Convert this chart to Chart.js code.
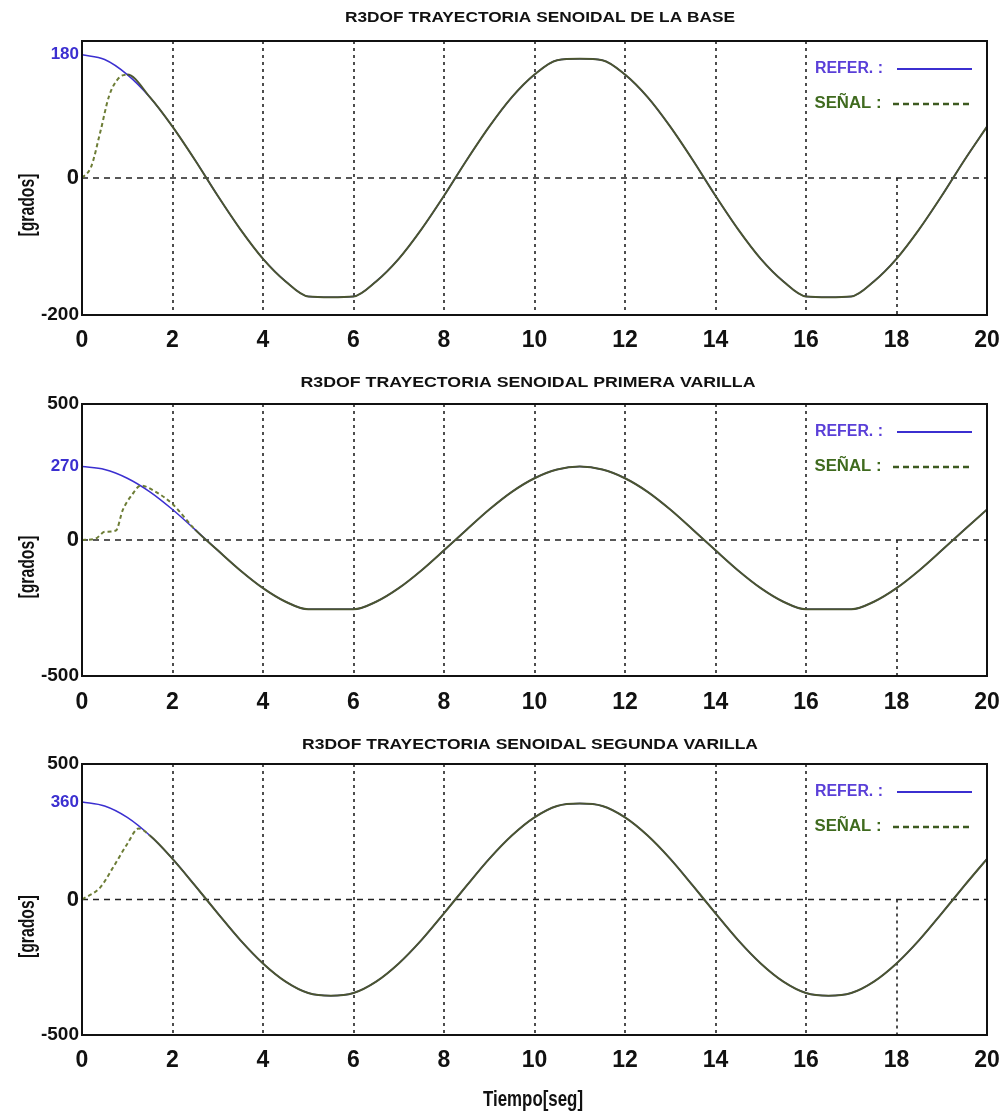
<!DOCTYPE html>
<html>
<head>
<meta charset="utf-8">
<script src="https://cdn.jsdelivr.net/npm/chart.js@4.4.0/dist/chart.umd.min.js"></script>
<style>
  html, body { margin: 0; padding: 0; background: #fff; }
  body { width: 1003px; height: 1119px; position: relative; overflow: hidden; }
  canvas { position: absolute; left: 0; }
</style>
</head>
<body>
<canvas id="c1" width="1003" height="360" style="top:0px"></canvas>
<canvas id="c2" width="1003" height="360" style="top:360px"></canvas>
<canvas id="c3" width="1003" height="399" style="top:720px"></canvas>
<script>
// sample times (seg)
const timeRef = [0, 0.5, 1, 1.5, 2, 2.5, 3, 3.5, 4, 4.5, 5, 5.5, 6, 6.5, 7, 7.5, 8, 8.5, 9, 9.5,
  10, 10.5, 11, 11.5, 12, 12.5, 13, 13.5, 14, 14.5, 15, 15.5, 16, 16.5, 17, 17.5, 18, 18.5, 19, 19.5, 20];
const xTicks = [0, 2, 4, 6, 8, 10, 12, 14, 16, 18, 20];

// base
const baseRef = [180, 173, 151, 118, 75, 26, -26, -75, -118, -151, -173, -174, -173, -151, -118, -75, -26, 26, 75, 118,
  151, 172, 174, 172, 151, 118, 75, 26, -26, -75, -118, -151, -173, -174, -173, -151, -118, -75, -26, 26, 75];
const baseSigT = [0, 0.2, 0.4, 0.6, 0.8, 1, 1.5, 2, 2.5, 3, 3.5, 4, 4.5, 5, 5.5, 6, 6.5, 7, 7.5, 8, 8.5, 9, 9.5,
  10, 10.5, 11, 11.5, 12, 12.5, 13, 13.5, 14, 14.5, 15, 15.5, 16, 16.5, 17, 17.5, 18, 18.5, 19, 19.5, 20];
const baseSig = [0, 16, 66, 120, 145, 151, 118, 75, 26, -26, -75, -118, -151, -173, -174, -173, -151, -118, -75, -26, 26, 75, 118,
  151, 172, 174, 172, 151, 118, 75, 26, -26, -75, -118, -151, -173, -174, -173, -151, -118, -75, -26, 26, 75];
const baseTicks = [-200, 0, 180];

// primera varilla
const var1Ref = [270, 259, 227, 177, 112, 38, -38, -112, -177, -227, -255, -255, -255, -227, -177, -112, -38, 38, 112, 177,
  227, 259, 270, 259, 227, 177, 112, 38, -38, -112, -177, -227, -255, -255, -255, -227, -177, -112, -38, 38, 112];
const var1SigT = [0, 0.3, 0.5, 0.75, 0.9, 1.1, 1.3, 1.6, 2, 2.5, 3, 3.5, 4, 4.5, 5, 5.5, 6, 6.5, 7, 7.5, 8, 8.5, 9, 9.5,
  10, 10.5, 11, 11.5, 12, 12.5, 13, 13.5, 14, 14.5, 15, 15.5, 16, 16.5, 17, 17.5, 18, 18.5, 19, 19.5, 20];
const var1Sig = [0, 5, 30, 35, 110, 165, 200, 180, 132, 38, -38, -112, -177, -227, -255, -255, -255, -227, -177, -112, -38, 38, 112, 177,
  227, 259, 270, 259, 227, 177, 112, 38, -38, -112, -177, -227, -255, -255, -255, -227, -177, -112, -38, 38, 112];
const var1Ticks = [-500, 0, 270, 500];

// segunda varilla
const var2Ref = [360, 345, 303, 236, 150, 51, -51, -150, -236, -303, -345, -355, -345, -303, -236, -150, -51, 51, 150, 236,
  303, 345, 354, 345, 303, 236, 150, 51, -51, -150, -236, -303, -345, -355, -345, -303, -236, -150, -51, 51, 150];
const var2SigT = [0, 0.4, 0.7, 1, 1.25, 1.5, 2, 2.5, 3, 3.5, 4, 4.5, 5, 5.5, 6, 6.5, 7, 7.5, 8, 8.5, 9, 9.5,
  10, 10.5, 11, 11.5, 12, 12.5, 13, 13.5, 14, 14.5, 15, 15.5, 16, 16.5, 17, 17.5, 18, 18.5, 19, 19.5, 20];
const var2Sig = [0, 44, 122, 205, 262, 236, 150, 51, -51, -150, -236, -303, -345, -355, -345, -303, -236, -150, -51, 51, 150, 236,
  303, 345, 354, 345, 303, 236, 150, 51, -51, -150, -236, -303, -345, -355, -345, -303, -236, -150, -51, 51, 150];
const var2Ticks = [-500, 0, 360, 500];

const FONT = '"Liberation Sans", Arial, sans-serif';
const BLUE = '#3b2fd0';
const GREEN = '#3f6a1e';

function fitText(ctx, text, cx, cy, w, font, color, rot) {
  ctx.save();
  ctx.font = font;
  const m = ctx.measureText(text).width;
  ctx.translate(cx, cy);
  if (rot) ctx.rotate(rot);
  ctx.scale(w / m, 1);
  ctx.fillStyle = color;
  ctx.textAlign = 'center';
  ctx.textBaseline = 'middle';
  ctx.fillText(text, 0, 0);
  ctx.restore();
}

// grid, frame, titles and legend
const decoPlugin = {
  id: 'deco',
  beforeDatasetsDraw(chart) {
    const { ctx, chartArea: a, scales: { x, y } } = chart;
    const y0 = y.getPixelForValue(0);
    ctx.save();
    ctx.strokeStyle = '#222';
    ctx.lineWidth = 1.6;
    ctx.setLineDash([3, 4]);
    xTicks.slice(1, -1).forEach(v => {
      const px = Math.round(x.getPixelForValue(v));
      ctx.beginPath();
      ctx.moveTo(px, v === 18 ? y0 : a.top);
      ctx.lineTo(px, a.bottom);
      ctx.stroke();
    });
    ctx.setLineDash([6, 5]);
    ctx.beginPath();
    ctx.moveTo(a.left, y0);
    ctx.lineTo(a.right, y0);
    ctx.stroke();
    ctx.restore();
  },
  afterDraw(chart, args, opts) {
    const { ctx, chartArea: a, scales: { y } } = chart;
    const y0 = y.getPixelForValue(0);
    ctx.save();
    ctx.strokeStyle = '#111';
    ctx.lineWidth = 2;
    ctx.strokeRect(a.left, a.top, a.right - a.left, a.bottom - a.top);

    fitText(ctx, opts.title, opts.titleX, opts.titleY, opts.titleW, 'bold 15px ' + FONT, '#111');
    fitText(ctx, '[grados]', 28, y0 + 27, 63, 'bold 22px ' + FONT, '#111', -Math.PI / 2);
    if (opts.xTitle) fitText(ctx, opts.xTitle, 533, 380, 100, 'bold 22px ' + FONT, '#111');

    // legend
    const ly1 = a.top + 28, ly2 = a.top + 63;
    fitText(ctx, 'REFER. :', 849, ly1, 68, 'bold 16px ' + FONT, '#5a3fd8');
    fitText(ctx, 'SEÑAL :', 848, ly2, 67, 'bold 16px ' + FONT, GREEN);
    ctx.strokeStyle = BLUE;
    ctx.lineWidth = 2;
    ctx.beginPath(); ctx.moveTo(897, ly1); ctx.lineTo(972, ly1); ctx.stroke();
    ctx.strokeStyle = '#3d5a20';
    ctx.lineWidth = 2.5;
    ctx.setLineDash([6, 4]);
    ctx.beginPath(); ctx.moveTo(893, ly2); ctx.lineTo(972, ly2); ctx.stroke();
    ctx.restore();
  }
};

function makeChart(id, refY, sigT, sigY, yTicks, ymin, ymax, joinT, deco, pad, xHeight, xPad) {
  const topTick = yTicks[yTicks.length - 1] === ymax ? ymax : null;
  return new Chart(document.getElementById(id), {
    type: 'line',
    data: {
      datasets: [
        {
          label: 'SEÑAL',
          data: sigT.map((t, i) => ({ x: t, y: sigY[i] })),
          borderColor: '#4b5530',
          borderWidth: 2,
          pointRadius: 0,
          cubicInterpolationMode: 'monotone',
          segment: {
            borderDash: c => c.p1.parsed.x <= joinT ? [4, 3] : undefined,
            borderColor: c => c.p1.parsed.x <= joinT ? '#6d7d36' : undefined
          }
        },
        {
          label: 'REFER.',
          data: timeRef.map((t, i) => ({ x: t, y: refY[i] })),
          borderColor: BLUE,
          borderWidth: 1.5,
          pointRadius: 0,
          cubicInterpolationMode: 'monotone'
        }
      ]
    },
    options: {
      responsive: false,
      animation: false,
      devicePixelRatio: 1,
      layout: { padding: { top: pad, right: 16, left: 0, bottom: 0 } },
      plugins: { legend: { display: false }, tooltip: { enabled: false }, deco: deco },
      scales: {
        x: {
          type: 'linear', min: 0, max: 20,
          afterBuildTicks: s => { s.ticks = xTicks.map(v => ({ value: v })); },
          afterFit: s => { s.height = xHeight; s.paddingLeft = 0; s.paddingRight = 0; },
          grid: { display: false, drawTicks: false },
          border: { display: false },
          ticks: { padding: xPad, color: '#111', font: { family: FONT, size: 23, weight: 'bold' }, maxRotation: 0 }
        },
        y: {
          type: 'linear', min: ymin, max: ymax,
          afterBuildTicks: s => { s.ticks = yTicks.map(v => ({ value: v })); },
          afterFit: s => { s.width = 82; s.paddingTop = 0; s.paddingBottom = 0; },
          grid: { display: false, drawTicks: false },
          border: { display: false },
          ticks: {
            padding: 3,
            color: c => (c.tick && c.tick.value !== 0 && c.tick.value !== ymin && c.tick.value !== topTick) ? BLUE : '#111',
            font: c => {
              const v = c.tick ? c.tick.value : 0;
              if (v === 0) return { family: FONT, size: 22, weight: 'bold' };
              if (v === ymin || v === topTick) return { family: FONT, size: 19, weight: 'bold' };
              return { family: FONT, size: 17, weight: 'bold' };
            },
            callback: v => String(v)
          }
        }
      }
    },
    plugins: [decoPlugin]
  });
}

makeChart('c1', baseRef, baseSigT, baseSig, baseTicks, -200, 200, 1.0,
  { title: 'R3DOF TRAYECTORIA SENOIDAL DE LA BASE', titleX: 540, titleY: 18, titleW: 390 }, 41, 45, 12);
makeChart('c2', var1Ref, var1SigT, var1Sig, var1Ticks, -500, 500, 2.5,
  { title: 'R3DOF TRAYECTORIA SENOIDAL PRIMERA VARILLA', titleX: 528, titleY: 23, titleW: 455 }, 44, 44, 13);
makeChart('c3', var2Ref, var2SigT, var2Sig, var2Ticks, -500, 500, 1.5,
  { title: 'R3DOF TRAYECTORIA SENOIDAL SEGUNDA VARILLA', titleX: 530, titleY: 25, titleW: 456, xTitle: 'Tiempo[seg]' }, 44, 84, 12);
</script>
</body>
</html>
